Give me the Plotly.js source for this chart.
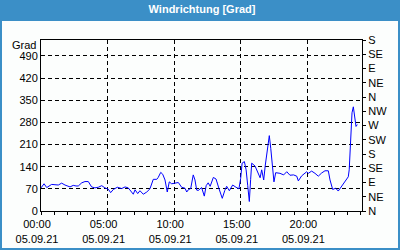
<!DOCTYPE html>
<html>
<head>
<meta charset="utf-8">
<script src="https://cdn.plot.ly/plotly-3.0.1.min.js"></script>
<style>
html,body{margin:0;padding:0;background:#ffffff;}
#chart{width:400px;height:250px;background:linear-gradient(#3b8fc7 0px,#3b8fc7 21px,#fcfefd 21px);box-shadow:inset 0 0 0 2px #3b8fc7;}
</style>
</head>
<body>
<div id="chart"></div>
<script>
// hours since 05.09.21 00:00
const hours = [0.00,0.23,0.43,0.60,0.80,1.05,1.30,1.55,1.80,2.18,2.42,2.63,2.80,3.06,3.30,3.55,3.80,4.05,4.30,4.56,4.80,5.05,5.23,5.43,5.73,6.06,6.31,6.55,6.73,6.93,7.06,7.26,7.43,7.68,7.94,8.18,8.43,8.69,8.80,8.99,9.14,9.31,9.48,9.63,9.81,10.06,10.31,10.56,10.81,10.94,11.06,11.24,11.43,11.56,11.69,11.81,12.06,12.26,12.40,12.55,12.70,12.94,13.14,13.36,13.61,13.80,13.94,14.14,14.39,14.64,14.86,14.99,15.10,15.27,15.40,15.52,15.64,15.74,15.82,16.07,16.27,16.45,16.57,16.72,16.84,16.97,17.14,17.25,17.37,17.49,17.62,17.94,18.22,18.45,18.69,18.96,19.20,19.32,19.57,19.95,20.07,20.32,20.57,20.82,21.07,21.32,21.57,21.70,21.90,22.12,22.32,22.58,22.82,23.07,23.14,23.25,23.35,23.45,23.57,23.65,23.75];
const windDir = [73,86,74,80,84,83,82,88,82,76,81,79,79,89,93,93,76,73,75,80,73,69,58,68,75,71,76,73,63,53,67,55,64,53,60,70,100,100,106,122,116,98,60,92,86,89,90,75,72,60,67,71,114,98,66,65,74,47,80,89,78,106,101,71,40,65,78,64,82,75,70,103,151,156,130,80,30,100,151,142,119,105,130,98,145,193,238,198,130,92,121,119,114,124,113,114,110,95,111,124,119,126,119,110,120,127,127,98,68,72,63,80,94,108,130,246,310,329,294,267,273];

const xTickVals = [0,5,10,15,20];
const xTickText = ['00:00<br>05.09.21','05:00<br>05.09.21','10:00<br>05.09.21','15:00<br>05.09.21','20:00<br>05.09.21'];
const yTickVals = [0,70,140,210,280,350,420,490];
const compassVals = [0,45,90,135,180,225,270,315,360,405,450,495,540];
const compassText = ['N','NE','E','SE','S','SW','W','NW','N','NE','E','SE','S'];

const font = {family:'"Liberation Sans", Arial, sans-serif', size:11, color:'#000000'};

const data = [{
  x: hours, y: windDir, type:'scatter', mode:'lines',
  line:{color:'#0000ff', width:1}, hoverinfo:'skip', showlegend:false
},{
  x:[0], y:[0], yaxis:'y2', type:'scatter', mode:'markers',
  marker:{opacity:0}, hoverinfo:'skip', showlegend:false
}];

const layout = {
  width:400, height:250,
  paper_bgcolor:'rgba(0,0,0,0)', plot_bgcolor:'rgba(0,0,0,0)',
  margin:{l:41, r:38, t:40, b:39, pad:0},
  font: font,
  title:{text:'<b>Windrichtung [Grad]</b>', font:{family:'"Liberation Sans", Arial, sans-serif', size:11, color:'#ffffff'},
         x:0.505, xanchor:'center', y:0.962, yanchor:'middle', xref:'container', yref:'container'},
  xaxis:{
    range:[0,24.1], tickmode:'array', tickvals:xTickVals, ticktext:xTickText,
    ticks:'outside', ticklen:3, tickcolor:'#000', tickwidth:1,
    showline:true, linecolor:'#000', linewidth:1, mirror:true,
    showgrid:true, gridcolor:'#000', gridwidth:1, griddash:'4px,3px',
    zeroline:false, tickfont:font, fixedrange:true, ticklabelshift:-4,
    minor:{tickmode:'linear', tick0:0, dtick:1, ticks:'outside', ticklen:3, tickcolor:'#000', showgrid:false}
  },
  yaxis:{
    range:[0,540], tickmode:'array', tickvals:yTickVals,
    ticks:'', showline:true, linecolor:'#000', linewidth:1,
    showgrid:true, gridcolor:'#000', gridwidth:1, griddash:'4px,3px',
    zeroline:false, tickfont:font, fixedrange:true
  },
  yaxis2:{
    range:[0,540], overlaying:'y', side:'right', tickmode:'array',
    tickvals:compassVals, ticktext:compassText,
    ticks:'outside', ticklen:3, tickcolor:'#000',
    showline:true, linecolor:'#000', linewidth:1,
    showgrid:false, zeroline:false, tickfont:font, fixedrange:true
  },
  annotations:[{
    text:'Grad', xref:'paper', yref:'paper', x:0, y:1, xanchor:'right', yanchor:'middle',
    xshift:-3, yshift:-5, showarrow:false, font:font
  }]
};

Plotly.newPlot('chart', data, layout, {displayModeBar:false, staticPlot:true});
</script>
</body>
</html>
